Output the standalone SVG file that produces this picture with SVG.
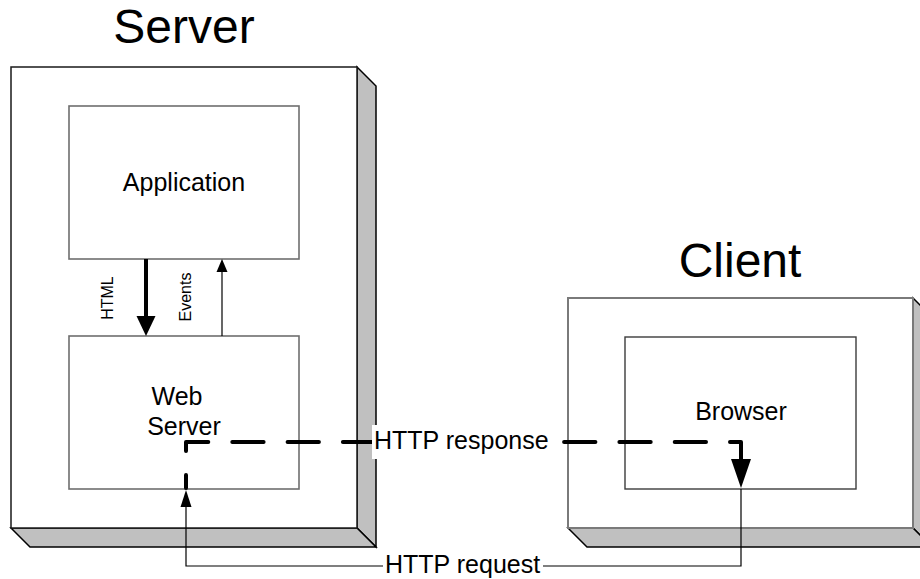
<svg xmlns="http://www.w3.org/2000/svg" width="920" height="579" viewBox="0 0 920 579">
  <style>
    text { font-family: "Liberation Sans", Arial, sans-serif; fill: #000; }
    .title { font-size: 48px; text-anchor: middle; }
    .label { font-size: 25px; }
    .mid { text-anchor: middle; }
    .small { font-size: 16px; text-anchor: middle; }
    .face { fill: #fff; stroke: #1a1a1a; stroke-width: 1.5; }
    .face-grey { fill: #fff; stroke: #7a7a7a; stroke-width: 2; }
    .side { fill: #c0c0c0; stroke: #000; stroke-width: 1.5; stroke-linejoin: miter; }
    .inner { fill: #fff; stroke: #6e6e6e; stroke-width: 1.6; }
    .inner-dark { fill: #fff; stroke: #3c3c3c; stroke-width: 1.4; }
    .thin { fill: none; stroke: #000; stroke-width: 1.2; }
    .thick { fill: none; stroke: #000; stroke-width: 4; }
    .dashed { fill: none; stroke: #000; stroke-width: 4; stroke-linecap: round; stroke-linejoin: round; stroke-dasharray: 31.3 24; stroke-dashoffset: 18.3; }
    .head { fill: #000; stroke: none; }
  </style>

  <!-- Server cabinet -->
  <g id="server">
    <text class="title" x="184" y="43">Server</text>
    <polygon class="side" points="357,67 376,86 376,547 357,528"/>
    <polygon class="side" points="11,528 357,528 376,547 30,547"/>
    <rect class="face" x="11" y="67" width="346" height="461"/>
  </g>

  <g id="application">
    <rect class="inner" x="69" y="106" width="230" height="153"/>
    <text class="label mid" x="184" y="191">Application</text>
  </g>

  <g id="web-server">
    <rect class="inner" x="69" y="336" width="230" height="153"/>
    <text class="label mid" x="177" y="405">Web</text>
    <text class="label mid" x="184" y="435">Server</text>
  </g>

  <!-- Client cabinet -->
  <g id="client">
    <text class="title" x="740" y="277">Client</text>
    <polygon class="side" points="913,298 932,317 932,547 913,528"/>
    <polygon class="side" points="568,528 913,528 932,547 587,547"/>
    <rect class="face-grey" x="568" y="298" width="345" height="230"/>
  </g>

  <g id="browser">
    <rect class="inner-dark" x="625" y="337" width="231" height="152"/>
    <text class="label mid" x="741" y="420">Browser</text>
  </g>

  <!-- Connectors -->
  <g id="connectors">
    <!-- HTML: application to web server -->
    <line class="thick" x1="146" y1="259" x2="146" y2="318"/>
    <polygon class="head" points="136.5,316 155.5,316 146,336"/>
    <text class="small" transform="translate(113,298) rotate(-90)">HTML</text>

    <!-- Events: web server to application -->
    <line class="thin" x1="222" y1="336" x2="222" y2="270"/>
    <polygon class="head" points="216.5,272 227.5,272 222,259"/>
    <text class="small" transform="translate(191,297) rotate(-90)">Events</text>

    <!-- HTTP request: browser to web server -->
    <polyline class="thin" points="186,505 186,566 383,566"/>
    <polyline class="thin" points="543,566 741,566 741,489"/>
    <polygon class="head" points="180.5,507 191.5,507 186,490"/>
    <text class="label" x="385" y="573">HTTP request</text>

    <!-- HTTP response: web server to browser -->
    <path class="dashed" d="M186,488 V442 H741 V462"/>
    <polygon class="head" points="731,459 751,459 741,488"/>
    <rect x="372" y="425" width="184" height="34" fill="#fff"/>
    <text class="label" x="374" y="449">HTTP response</text>
  </g>
</svg>
